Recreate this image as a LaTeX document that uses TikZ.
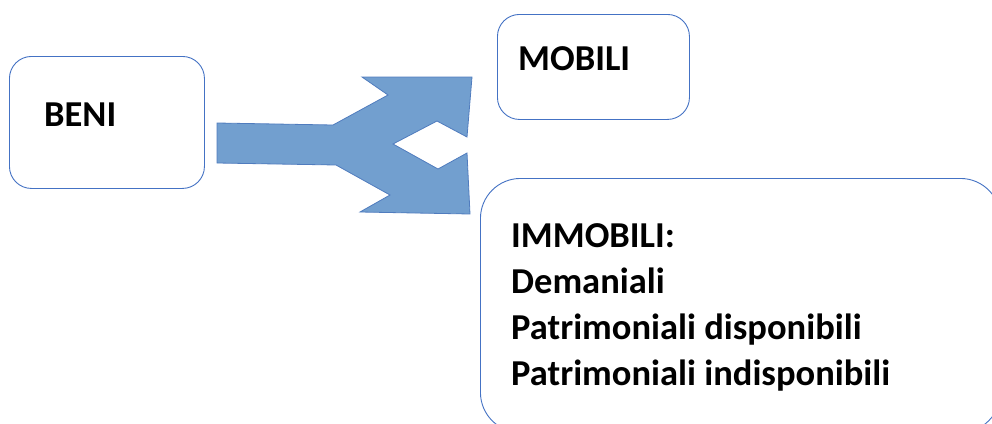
\documentclass[tikz,border=0pt]{standalone}
\usepackage{fontspec}
\setmainfont{Carlito}
\definecolor{boxblue}{RGB}{68,114,196}
\definecolor{arrowfill}{RGB}{114,159,207}
\definecolor{arrowline}{RGB}{80,124,190}
\begin{document}
\begin{tikzpicture}[x=1pt,y=-1pt,
  box/.style={draw=boxblue, line width=0.9pt, fill=white, inner sep=0pt, anchor=north west},
  lbl/.style={font=\fontsize{36.5}{46}\selectfont\bfseries, anchor=base west, inner sep=0pt, align=left},
  split/.style={fill=arrowfill, draw=arrowline, line width=0.8pt, line join=miter}]
\useasboundingbox (0,0) rectangle (992,423);
\clip (0,0) rectangle (992,423);
% boxes
\node[box, rounded corners=22pt, minimum width=195pt, minimum height=132pt] (beni) at (9,56) {};
\node[box, rounded corners=22pt, minimum width=192pt, minimum height=105pt] (mobili) at (497,14) {};
\node[box, rounded corners=40pt, minimum width=520pt, minimum height=254pt] (immobili) at (480,178) {};
% splitting arrow
\draw[split] (217,123) -- (333,125) -- (388,95) -- (362,77) -- (472,77) -- (467,137)
  -- (437,121) -- (393,144) -- (438,169) -- (467,153) -- (470,214) -- (360,212)
  -- (390,195) -- (336,165) -- (217,163) -- cycle;
% texts
\node[lbl] (beniT) at (44,126) {BENI};
\node[lbl] (mobiliT) at (518,70) {MOBILI};
\node[lbl] (immobiliT) at (511,385) {IMMOBILI:\\Demaniali\\Patrimoniali disponibili\\Patrimoniali indisponibili};
\end{tikzpicture}
\end{document}
